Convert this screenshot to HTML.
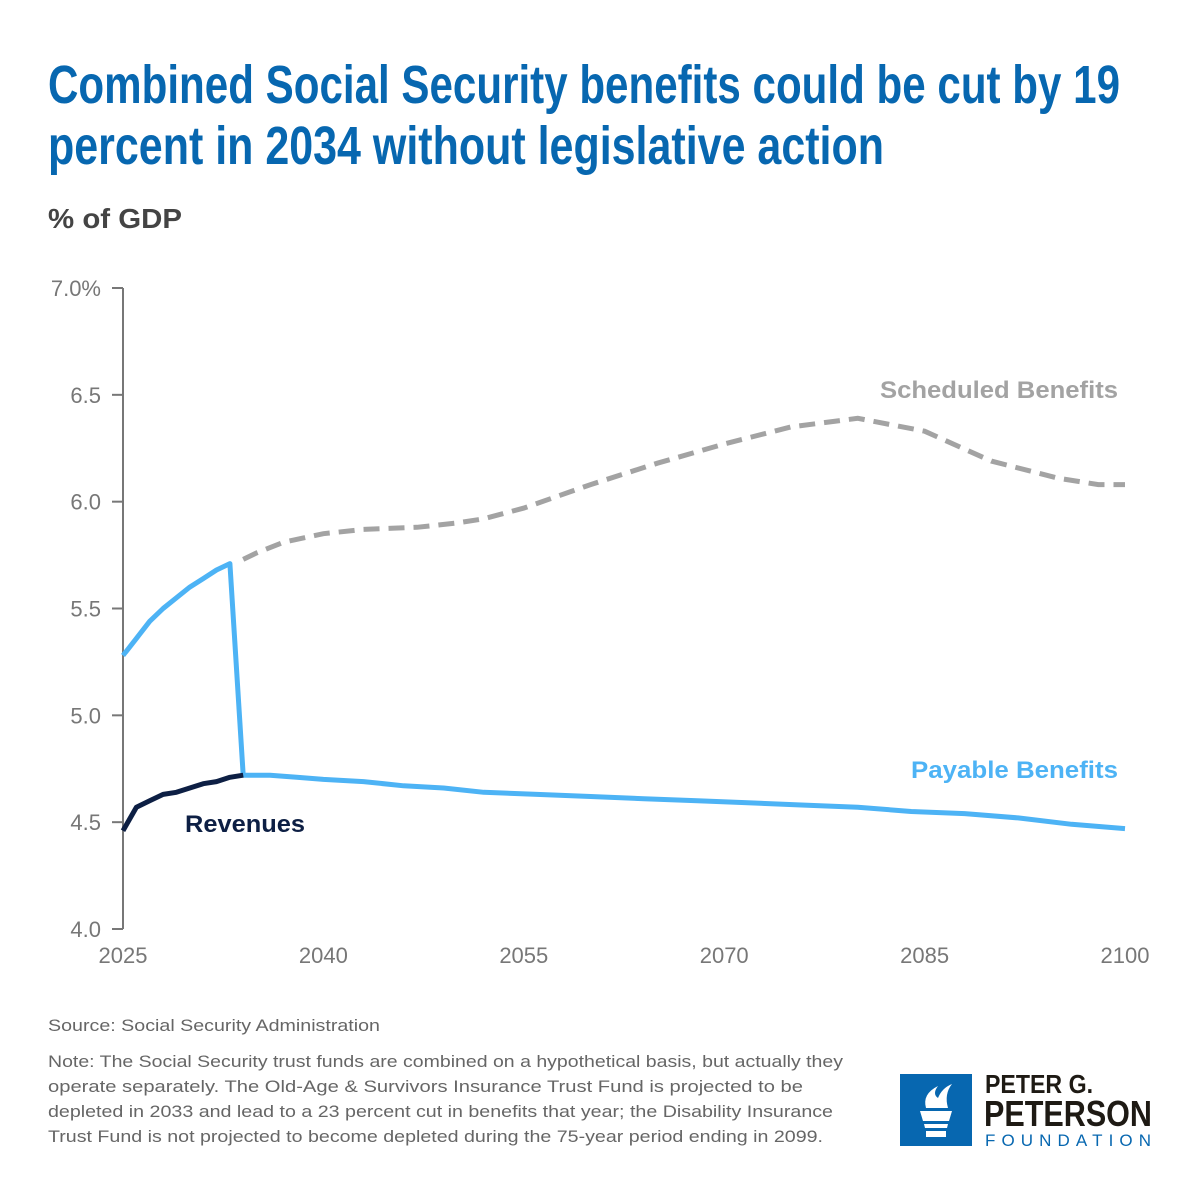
<!DOCTYPE html>
<html><head><meta charset="utf-8"><style>
body{margin:0;background:#fff}
svg{display:block;font-family:"Liberation Sans",sans-serif}
</style></head><body>
<svg width="1200" height="1200" viewBox="0 0 1200 1200">
<rect width="1200" height="1200" fill="#fff"/>
<g fill="#0767b0" font-family="'Liberation Sans Narrow','Liberation Sans',sans-serif" font-weight="bold" font-size="54">
<text x="48" y="103" textLength="1072" lengthAdjust="spacingAndGlyphs">Combined Social Security benefits could be cut by 19</text>
<text x="48" y="164" textLength="836" lengthAdjust="spacingAndGlyphs">percent in 2034 without legislative action</text>
</g>
<text x="48" y="228" font-size="28" font-weight="bold" fill="#444" textLength="134" lengthAdjust="spacingAndGlyphs">% of GDP</text>
<g id="axes"></g>
<g id="marks"></g>
<text x="880" y="398" font-size="24" font-weight="bold" fill="#a3a3a3" textLength="238" lengthAdjust="spacingAndGlyphs">Scheduled Benefits</text>
<text x="911" y="778" font-size="24" font-weight="bold" fill="#4db3f5" textLength="207" lengthAdjust="spacingAndGlyphs">Payable Benefits</text>
<text x="185" y="832" font-size="24" font-weight="bold" fill="#0d1f44" textLength="120" lengthAdjust="spacingAndGlyphs">Revenues</text>
<text x="48" y="1031" font-size="17" fill="#666" textLength="332" lengthAdjust="spacingAndGlyphs">Source: Social Security Administration</text>
<g font-size="17" fill="#666">
<text x="48" y="1067" textLength="795" lengthAdjust="spacingAndGlyphs">Note: The Social Security trust funds are combined on a hypothetical basis, but actually they</text>
<text x="48" y="1092" textLength="755" lengthAdjust="spacingAndGlyphs">operate separately. The Old-Age &amp; Survivors Insurance Trust Fund is projected to be</text>
<text x="48" y="1117" textLength="785" lengthAdjust="spacingAndGlyphs">depleted in 2033 and lead to a 23 percent cut in benefits that year; the Disability Insurance</text>
<text x="48" y="1142" textLength="775" lengthAdjust="spacingAndGlyphs">Trust Fund is not projected to become depleted during the 75-year period ending in 2099.</text>
</g>
<g>
<rect x="900" y="1074" width="72" height="72" fill="#0767b0"/>
<path d="M920 1111 h32 l-3 10 h-26 z M924 1124 h24 l-1 4 h-22 z M926 1131 h20 v6 h-20 z" fill="#fff"/>
<path d="M926 1108 q-4-14 12-22 q-6 8 0 12 q4-10 14-14 q-8 10-4 24 z" fill="#fff"/>
<text x="985" y="1093" font-size="26" font-weight="bold" fill="#1e1a14" textLength="108" lengthAdjust="spacingAndGlyphs">PETER G.</text>
<text x="984" y="1126" font-size="36" font-weight="bold" fill="#1e1a14" textLength="168" lengthAdjust="spacingAndGlyphs">PETERSON</text>
<text x="985" y="1146" font-size="17" fill="#0767b0" textLength="166" lengthAdjust="spacing">FOUNDATION</text>
</g>
</svg>
<script>
const xTicks=[2025,2040,2055,2070,2085,2100];
const yTicks=[4.0,4.5,5.0,5.5,6.0,6.5,7.0];
const yTickLabels=["4.0","4.5","5.0","5.5","6.0","6.5","7.0%"];
const payableYears=[2025,2026,2027,2028,2029,2030,2031,2032,2033,2034,2036,2038,2040,2043,2046,2049,2052,2056,2060,2064,2068,2072,2076,2080,2084,2088,2092,2096,2100];
const payableValues=[5.28,5.36,5.44,5.50,5.55,5.60,5.64,5.68,5.71,4.72,4.72,4.71,4.70,4.69,4.67,4.66,4.64,4.63,4.62,4.61,4.60,4.59,4.58,4.57,4.55,4.54,4.52,4.49,4.47];
const revenueYears=[2025,2026,2027,2028,2029,2030,2031,2032,2033,2034];
const revenueValues=[4.46,4.57,4.60,4.63,4.64,4.66,4.68,4.69,4.71,4.72];
const scheduledYears=[2034,2035,2037,2040,2043,2047,2050,2052,2055,2060,2065,2070,2075,2080,2085,2090,2095,2098,2100];
const scheduledValues=[5.73,5.76,5.81,5.85,5.87,5.88,5.90,5.92,5.97,6.08,6.18,6.27,6.35,6.39,6.33,6.19,6.11,6.08,6.08];
const X=y=>123+(y-2025)*(1002/75);
const Y=v=>929-(v-4)*(641/3);
const ns="http://www.w3.org/2000/svg";
const axes=document.getElementById('axes'),marks=document.getElementById('marks');
function mk(tag,attrs,parent){const e=document.createElementNS(ns,tag);for(const k in attrs)e.setAttribute(k,attrs[k]);parent.appendChild(e);return e;}
const ax=mk('line',{x1:123,y1:Y(7),x2:123,y2:Y(4),stroke:'#777','stroke-width':2},axes);


yTicks.forEach((v,i)=>{
 const t=mk('line',{x1:112,x2:123,y1:Y(v),y2:Y(v),stroke:'#777','stroke-width':2},axes);
 
 
 const l=mk('text',{x:101,y:Y(v)+8,'text-anchor':'end','font-size':22,fill:'#777'},axes);
 
 
 l.textContent=yTickLabels[i];
});
xTicks.forEach(y=>{
 const l=mk('text',{x:X(y),y:963,'text-anchor':'middle','font-size':22,fill:'#777'},axes);
 
 
 l.textContent=y;
});
function pts(xs,vs){return xs.map((y,i)=>X(y).toFixed(1)+','+Y(vs[i]).toFixed(1)).join(' ');}
const s=mk('polyline',{points:pts(scheduledYears,scheduledValues),fill:'none',stroke:'#a3a3a3','stroke-width':5,'stroke-dasharray':'16 9'},marks);


const p=mk('polyline',{points:pts(payableYears,payableValues),fill:'none',stroke:'#4db3f5','stroke-width':5,'stroke-linejoin':'round'},marks);


const r=mk('polyline',{points:pts(revenueYears,revenueValues),fill:'none',stroke:'#0d1f44','stroke-width':5,'stroke-linejoin':'round'},marks);


</script>
</body></html>
